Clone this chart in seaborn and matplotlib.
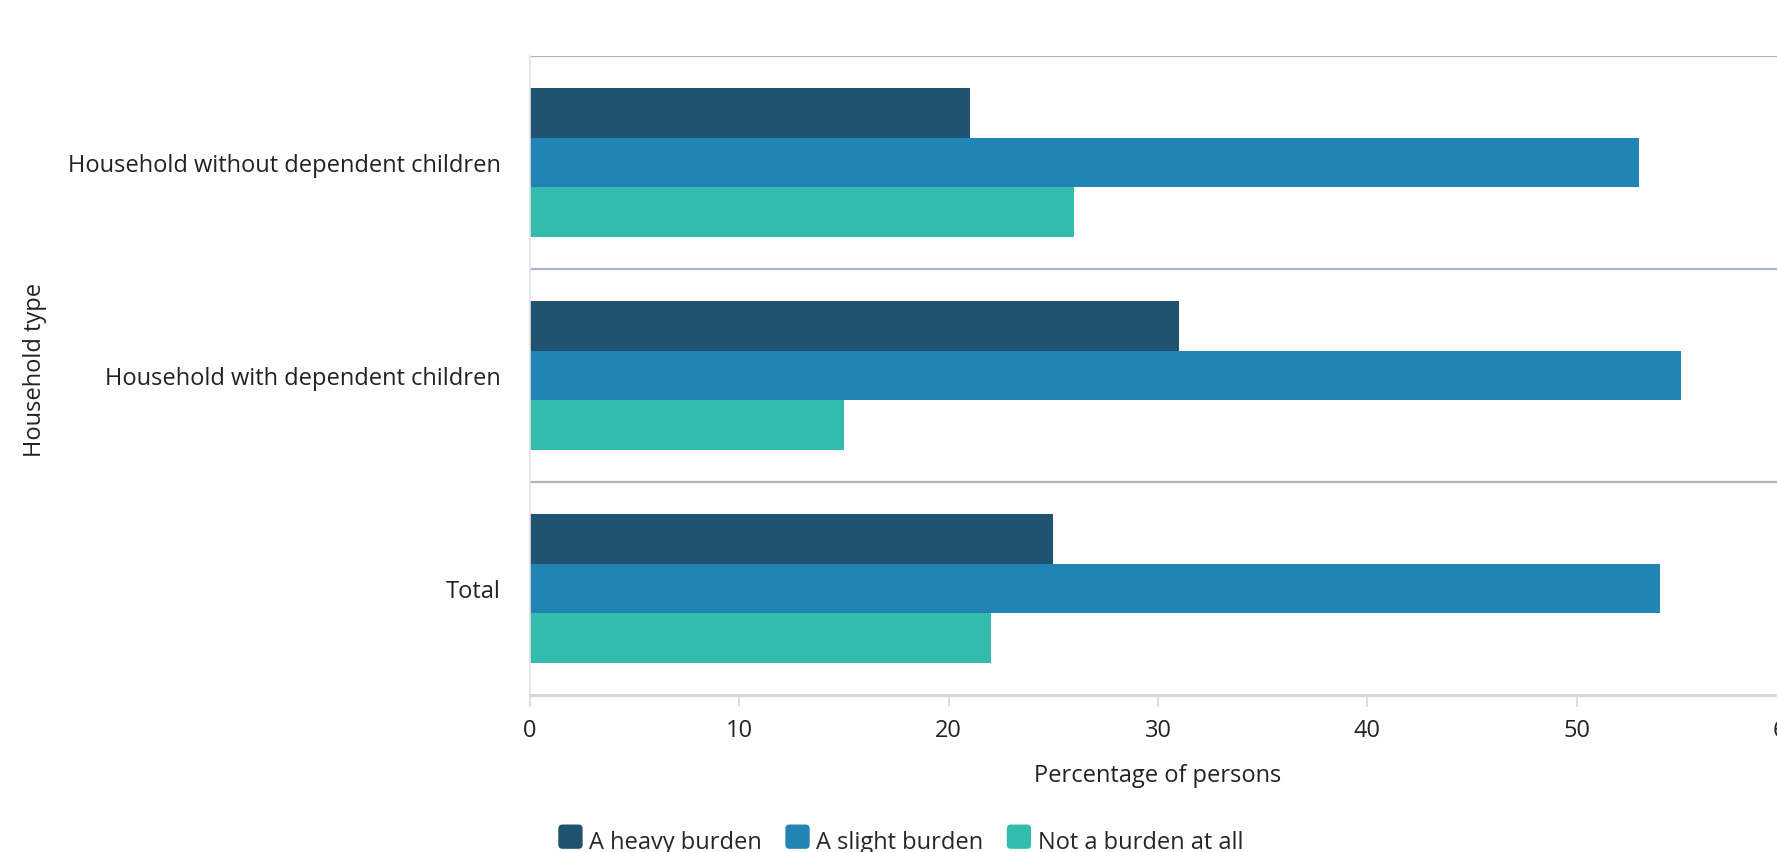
import matplotlib
matplotlib.use("Agg")
import matplotlib.pyplot as plt
import seaborn as sns
import pandas as pd
from matplotlib.patches import FancyBboxPatch
from matplotlib.legend_handler import HandlerPatch
import matplotlib.patches as mpatches

categories = ["Household without dependent children", "Household with dependent children", "Total"]
series_names = ["A heavy burden", "A slight burden", "Not a burden at all"]
heavy = [21, 31, 25]
slight = [53, 55, 54]
not_burden = [26, 15, 22]
colors = ["#20536f", "#2283b5", "#33bbae"]
x_ticks = [0, 10, 20, 30, 40, 50, 60]

rows = []
for name, vals in zip(series_names, [heavy, slight, not_burden]):
    for c, v in zip(categories, vals):
        rows.append({"Household type": c, "Series": name, "Value": v})
df = pd.DataFrame(rows)

sns.set_theme(style="white")
plt.rcParams["font.family"] = ["Open Sans", "DejaVu Sans"]
FS = 17

fig = plt.figure(figsize=(17.77, 8.53), dpi=100)
ax = fig.add_axes([530/1777, 1-696/853, (1786-530)/1777, (696-57)/853])

sns.barplot(data=df, y="Household type", x="Value", hue="Series", order=categories,
            hue_order=series_names, palette=colors, orient="h", width=0.70,
            saturation=1, ax=ax, legend=False, linewidth=0)

ax.set_xlim(0, 60)
ax.set_ylim(len(categories) - 0.5, -0.5)
ax.set_xticks(x_ticks)
ax.set_xticklabels([str(t) for t in x_ticks], fontsize=FS, color="#222222")
ax.tick_params(axis="x", length=8.5, width=1.2, color="#d8d8d8", pad=8, direction="out", bottom=True)
ax.tick_params(axis="y", length=0, labelsize=FS, labelcolor="#222222", pad=21)

for b in [-0.5, 0.5, 1.5]:
    ax.axhline(b, color="#a9b5c0", lw=1.6, zorder=0.5)

for s in ["top", "right"]:
    ax.spines[s].set_visible(False)
ax.spines["left"].set_color("#e3e3e3")
ax.spines["left"].set_linewidth(1.2)
ax.spines["bottom"].set_color("#d8d8d8")
ax.spines["bottom"].set_linewidth(2.2)

ax.set_xlabel("Percentage of persons", fontsize=FS, color="#222222", labelpad=15)
ax.set_ylabel("Household type", fontsize=FS, color="#222222")
ax.yaxis.set_label_coords(-(530-47)/(1786-530), 0.51)


class RoundHandler(HandlerPatch):
    def create_artists(self, legend, orig_handle, xdescent, ydescent, width, height, fontsize, trans):
        s = min(width, height) * 1.15
        p = FancyBboxPatch((xdescent + (width - s) / 2, ydescent + (height - s) / 2 - 1), s, s,
                           boxstyle="round,pad=0,rounding_size=3",
                           facecolor=orig_handle.get_facecolor(), edgecolor="none", transform=trans)
        return [p]

handles = [mpatches.Patch(facecolor=c, label=n) for c, n in zip(colors, series_names)]
fig.legend(handles=handles, loc="center", bbox_to_anchor=(901/1777, 1-843/853), ncol=3,
           frameon=False, fontsize=FS, handlelength=1.0, handleheight=1.0, handletextpad=0.3,
           columnspacing=1.0, handler_map={mpatches.Patch: RoundHandler()})

fig.savefig("out.png", dpi=100)
